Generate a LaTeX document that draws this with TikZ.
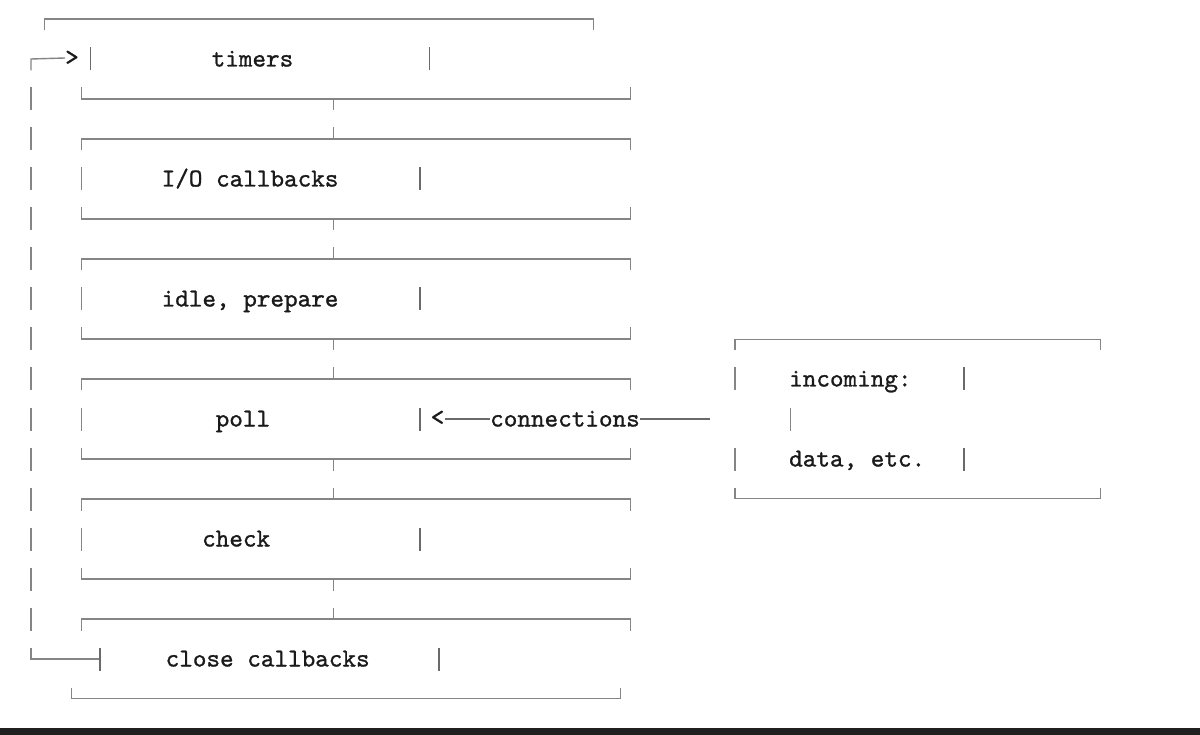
\documentclass[tikz,border=0pt]{standalone}
\usepackage{fontspec}
\newfontfamily\mycodefam{lmmono10-regular.otf}[FakeBold=1.0]
\definecolor{lncol}{HTML}{858585}
\definecolor{barcol}{HTML}{6A6A6A}
\definecolor{txtcol}{HTML}{1A1A1A}
\definecolor{footcol}{HTML}{202020}
\newcommand\mycode{\fontsize{25.9}{30}\selectfont\mycodefam}
\tikzset{
  boxline/.style={draw=lncol, line width=1.4pt},
  pipebar/.style={draw=barcol, line width=1.4pt},
  lbl/.style={font=\mycode, text=txtcol, inner sep=0pt, anchor=base west},
}
\begin{document}
\begin{tikzpicture}[x=1pt,y=-1pt]
\useasboundingbox (0,0) rectangle (1200,735);
\fill[white] (0,0) rectangle (1200,735);
\fill[footcol] (0,727.5) rectangle (1200,735);

% ---- top bracket (row 0) ----
\draw[boxline] (44.3,30.5) -- (44.3,19) -- (593.3,19) -- (593.3,30.5);

% ---- loop back line on the left ----
\coordinate (loopTop) at (31,59);
\coordinate (loopBot) at (31,659);
\node[font=\mycode, text=txtcol, inner sep=0pt] (gt) at (72,58) {>};
\draw[boxline] (31,70.5) -- (loopTop) -- (gt.west);
\foreach \k in {2,...,15}{
  \draw[boxline] (31,{19+40*\k-11.5}) -- (31,{19+40*\k+11.5});
}
\node[inner sep=0pt, minimum width=1pt, minimum height=23pt] (closebar) at (100,659) {};
\draw[boxline] (31,647.5) -- (loopBot) -- (closebar.center);
\draw[pipebar] (100,647.5) -- (100,670.5);

% ---- timers row ----
\draw[pipebar] (90.3,47.5) -- (90.3,70.5);
\node[lbl] (timers) at (211.5,66.5) {timers};
\draw[pipebar] (429.3,47.5) -- (429.3,70.5);

% ---- bottom lines of boxes with lower connector ticks ----
\foreach \k in {2,5,8,11,14}{
  \pgfmathsetmacro\yy{19+40*\k}
  \draw[boxline] (81.7,\yy-11.5) -- (81.7,\yy) -- (630.7,\yy) -- (630.7,\yy-11.5);
  \draw[boxline] (333.3,\yy) -- (333.3,\yy+11.5);
}
% ---- top lines of boxes with upper connector ticks ----
\foreach \k in {3,6,9,12,15}{
  \pgfmathsetmacro\yy{19+40*\k}
  \draw[boxline] (81.7,\yy+11.5) -- (81.7,\yy) -- (630.7,\yy) -- (630.7,\yy+11.5);
  \draw[boxline] (333.3,\yy-11.5) -- (333.3,\yy);
}
% ---- middle rows: side bars ----
\foreach \k in {4,7,10,13}{
  \pgfmathsetmacro\yy{19+40*\k}
  \draw[boxline] (81.7,\yy-11.5) -- (81.7,\yy+11.5);
  \draw[pipebar] (420,\yy-11.5) -- (420,\yy+11.5);
}

% ---- phase labels ----
\node[lbl] (io)    at (161.5,186.5) {I/O callbacks};
\node[lbl] (idle)  at (161.5,306.5) {idle, prepare};
\node[lbl] (poll)  at (215.5,426.5) {poll};
\node[lbl] (check) at (202,546.5) {check};
\node[lbl] (close) at (165.5,666.5) {close callbacks};
\draw[pipebar] (439,647.5) -- (439,670.5);

% ---- last bottom line ----
\draw[boxline] (71.7,687.5) -- (71.7,698.5) -- (620.7,698.5) -- (620.7,687.5);

% ---- incoming box ----
\draw[boxline] (735,350.5) -- (735,339.3) -- (1100.7,339.3) -- (1100.7,350.5);
\draw[boxline] (735,487.5) -- (735,498.5) -- (1100.7,498.5) -- (1100.7,487.5);
\draw[boxline] (735,367.5) -- (735,390.5);
\draw[boxline] (735,447.5) -- (735,470.5);
\node[lbl] (incoming) at (789,386.5) {incoming:};
\node[lbl] (data)     at (789,466.5) {data, etc.};
\draw[pipebar] (964,367.5) -- (964,390.5);
\draw[pipebar] (964,447.5) -- (964,470.5);
\draw[boxline] (790.7,407.5) -- (790.7,430.5);

% ---- connections arrow into poll ----
\node[font=\mycode, text=txtcol, inner sep=0pt] (lt) at (437.5,418) {<};
\node[lbl] (conn) at (490,426.5) {connections};
\coordinate (connEnd) at (710,419);
\draw[boxline, draw=barcol] (lt.east |- 0,419) -- (conn.west |- 0,419);
\draw[boxline, draw=barcol] (conn.east |- 0,419) -- (connEnd);
\end{tikzpicture}
\end{document}
